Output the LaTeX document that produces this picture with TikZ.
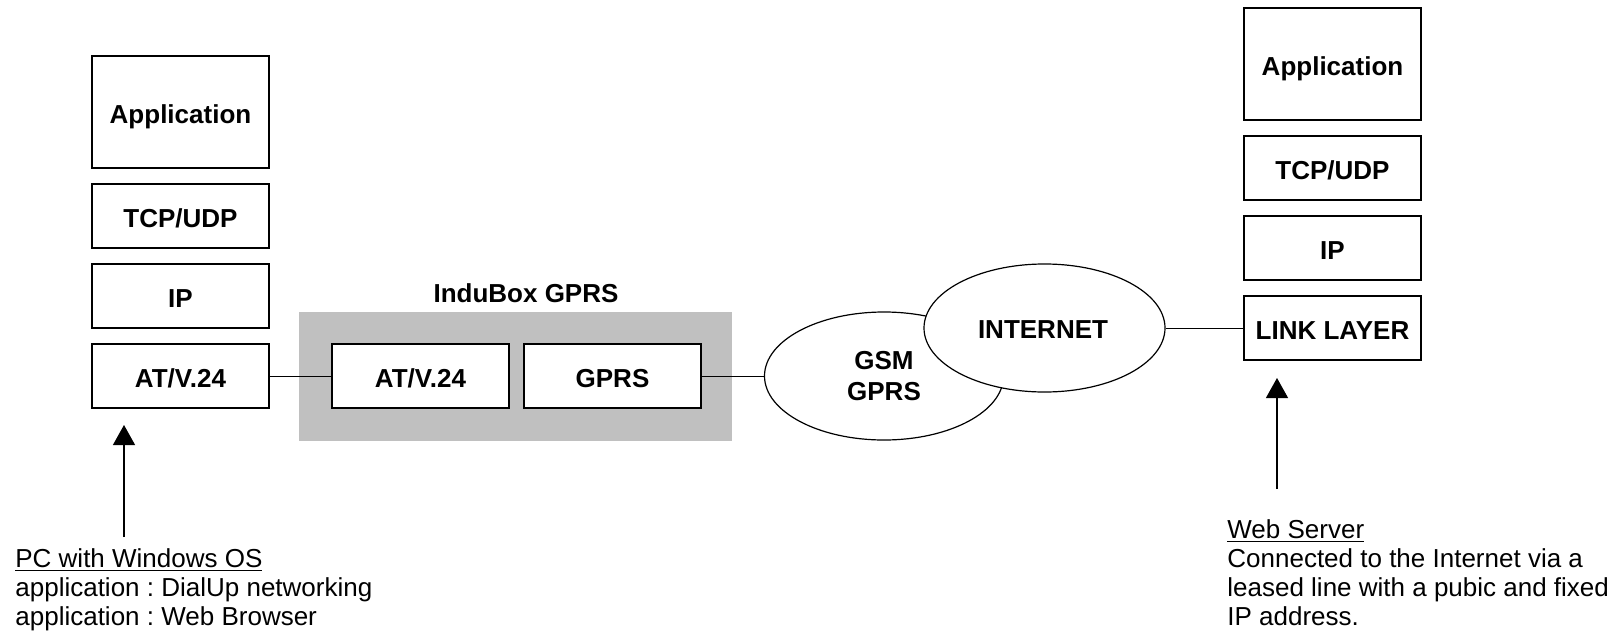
\documentclass[tikz,border=0pt]{standalone}
\usepackage{fontspec}
\setmainfont{Liberation Sans}
\usetikzlibrary{arrows.meta, shapes.geometric}
\definecolor{boxgray}{RGB}{192,192,192}

\tikzset{
    layer/.style={draw, fill=white, line width=0.6pt, minimum width=88.5pt,
        minimum height=32pt, inner sep=0pt, text height=11.3pt, text depth=0pt,
        font=\fontsize{13pt}{15pt}\selectfont\bfseries},
    cloud/.style={draw, fill=white, ellipse, line width=0.6pt, inner sep=0pt,
        font=\fontsize{13pt}{15.5pt}\selectfont\bfseries, align=center},
    link/.style={line width=0.5pt},
    pointer/.style={line width=0.6pt, -{Triangle[width=11pt,length=10pt]}},
    note/.style={align=left, anchor=west, inner sep=0pt,
        font=\fontsize{13pt}{14.5pt}\selectfont\frenchspacing}
}

\begin{document}
\begin{tikzpicture}[x=0.5pt,y=-0.5pt]
    % Fix the page size
    \useasboundingbox (0,0) rectangle (1623,643);

    % PC stack
    \node[layer, minimum height=56pt] (pcapp) at (180.5,112) {Application};
    \node[layer] (pctcp) at (180.5,216) {TCP/UDP};
    \node[layer] (pcip) at (180.5,296) {IP};
    \node[layer] (pcat) at (180.5,376) {AT/V.24};

    % InduBox
    \fill[boxgray] (299,312) rectangle (732,441);
    \node[font=\fontsize{13pt}{15pt}\selectfont\bfseries] (boxlabel) at (526,293) {InduBox GPRS};
    \node[layer] (boxat) at (420.5,376) {AT/V.24};
    \node[layer] (boxgprs) at (612.5,376) {GPRS};

    % Networks
    \node[cloud, minimum width=119.5pt, minimum height=64pt] (gsm) at (884,376) {GSM\\GPRS};
    \node[cloud, minimum width=120.5pt, minimum height=64pt] (inet) at (1044.5,328) {};
    \node[font=\fontsize{13pt}{15pt}\selectfont\bfseries] (inetlabel) at (1043,330) {INTERNET};

    % Server stack
    \node[layer, minimum height=56pt] (srvapp) at (1332.5,64) {Application};
    \node[layer] (srvtcp) at (1332.5,168) {TCP/UDP};
    \node[layer] (srvip) at (1332.5,248) {IP};
    \node[layer] (srvlink) at (1332.5,328) {LINK LAYER};

    % Connections
    \draw[link] (pcat) -- (boxat);
    \draw[link] (boxgprs) -- (gsm);
    \draw[link] (inet) -- (srvlink);

    % Pointers to the stacks
    \coordinate (pcfoot) at (124,537);
    \coordinate (pctip) at (124,425);
    \coordinate (srvfoot) at (1277,489);
    \coordinate (srvtip) at (1277,378);
    \draw[pointer] (pcfoot) -- (pctip);
    \draw[pointer] (srvfoot) -- (srvtip);

    % Notes
    \node[note] (pcnote) at (15,590) {\underline{PC with Windows OS}\\
        application : DialUp networking\\
        application : Web Browser};
    \node[note] (srvnote) at (1227,573) {\underline{Web Server}\\
        Connected to the Internet via a\\
        leased line with a pubic and fixed\\
        IP address.};
\end{tikzpicture}
\end{document}
